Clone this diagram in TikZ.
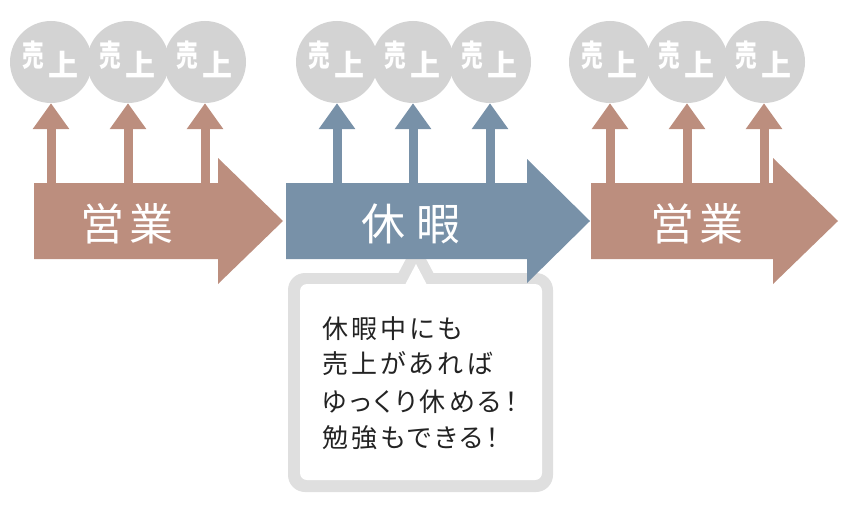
\documentclass[tikz,border=0pt]{standalone}
\usepackage{fontspec}
\newfontfamily\cjk{Noto Sans CJK JP}
\newfontfamily\cjkspaced{Noto Sans CJK JP}[RawFeature=+palt,LetterSpace=12]
\usetikzlibrary{arrows.meta}
\definecolor{bizbrown}{RGB}{188,142,126}
\definecolor{bizblue}{RGB}{120,145,168}
\definecolor{salegray}{RGB}{211,211,211}
\definecolor{callgray}{RGB}{223,223,223}
\definecolor{calltext}{RGB}{35,35,35}
\tikzset{
  sale/.style={circle, fill=salegray, minimum size=82pt, inner sep=0pt},
  saletxt/.style={text=white, inner sep=0pt, anchor=base, font={\cjk\bfseries\fontsize{30pt}{30pt}\selectfont}},
  bigtxt/.style={text=white, inner sep=0pt, anchor=base, font={\cjk\fontsize{44pt}{44pt}\selectfont}},
  calltxt/.style={text=calltext, inner sep=0pt, anchor=base west, font={\cjkspaced\fontsize{26pt}{26pt}\selectfont}},
  uparrow/.style={line width=9pt, -{Triangle[width=35pt,length=26pt]}},
}
\begin{document}
\begin{tikzpicture}[x=1pt,y=-1pt]
\useasboundingbox (0,0) rectangle (850,508);
% callout
\fill[callgray, rounded corners=17pt] (288,273) rectangle (553,492);
\fill[callgray] (398,274) -- (416,240) -- (434,274) -- cycle;
\fill[white, rounded corners=7pt] (300,284) rectangle (542,480);
\fill[white] (405,285) -- (416,264) -- (427,285) -- cycle;
% circles
\foreach \x/\n in {51/a1,128/a2,205/a3,337/b1,413/b2,490/b3,610/c1,687/c2,764/c3}{
  \node[sale] (\n) at (\x,62) {};
}
\foreach \x/\n in {51/a1,128/a2,205/a3,337/b1,413/b2,490/b3,610/c1,687/c2,764/c3}{
  \node[saletxt] (\n-u) at (\x-18,67) {\scalebox{0.72}[1]{売}};
  \node[saletxt] (\n-j) at (\x+12,77) {上};
}
% small arrows
\foreach \x/\n/\c in {51/a1/bizbrown,128/a2/bizbrown,205/a3/bizbrown,337/b1/bizblue,413/b2/bizblue,490/b3/bizblue,610/c1/bizbrown,687/c2/bizbrown,764/c3/bizbrown}{
  \coordinate (\n-s) at (\x,195);
  \draw[uparrow, draw=\c] (\n-s) -- (\n.south);
}
% big arrows
\fill[bizbrown] (34,183) -- (218,183) -- (218,158) -- (283,221) -- (218,284) -- (218,259) -- (34,259) -- cycle;
\fill[bizblue] (286,183) -- (527,183) -- (527,159) -- (590,221) -- (527,283) -- (527,259) -- (286,259) -- cycle;
\fill[bizbrown] (591,183) -- (773,183) -- (773,158) -- (838,221) -- (773,284) -- (773,259) -- (591,259) -- cycle;
\node[bigtxt] (l1) at (127,240) {営\hspace{6pt}業};
\node[bigtxt] (l2) at (411,240) {休\hspace{11pt}暇};
\node[bigtxt] (l3) at (697,240) {営\hspace{6pt}業};
% callout text
\node[calltxt] (t1) at (322,338) {休暇中にも};
\node[calltxt] (t2) at (322,373.5) {売上があれば};
\node[calltxt] (t3) at (322,411) {ゆっくり休める！};
\node[calltxt] (t4) at (322,447) {勉強もできる！};
\end{tikzpicture}
\end{document}
